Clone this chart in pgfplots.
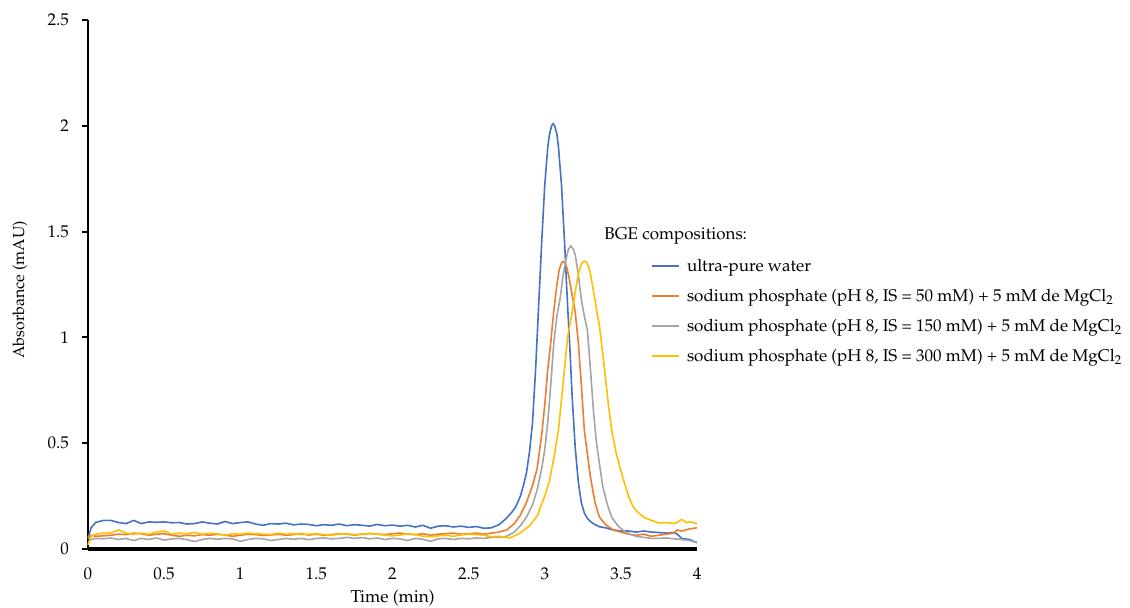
\documentclass[border=0pt]{standalone}
\usepackage[T1]{fontenc}
\usepackage{mathpazo}
\usepackage{pgfplots}
\pgfplotsset{compat=1.18}
\definecolor{cBlue}{HTML}{4472C4}
\definecolor{cOrange}{HTML}{ED7D31}
\definecolor{cGray}{HTML}{A5A5A5}
\definecolor{cYellow}{HTML}{FFC000}
\newcommand{\fs}{\fontsize{8.5}{10}\selectfont}
\begin{document}
\begin{tikzpicture}
\useasboundingbox (-44pt,-29.5pt) rectangle (521pt,274.5pt);
\begin{axis}[
  scale only axis, width=304.5pt, height=264.5pt,
  xmin=0, xmax=4, ymin=0, ymax=2.5,
  axis lines=left, axis line style={-},
  x axis line style={line width=1.8pt},
  y axis line style={line width=1.2pt},
  xtick={0,0.5,...,4}, ytick={0,0.5,...,2.5},
  xtick style={draw=none},
  ytick style={line width=1pt, black},
  tick align=outside, major tick length=3pt,
  tick label style={font=\fs},
  xticklabel style={yshift=-3pt},
  yticklabel style={xshift=-3pt},
  every axis x label/.style={at={(rel axis cs:0.5,0)}, yshift=-24.5pt, anchor=center, font=\fontsize{8.6}{10}\selectfont},
  every axis y label/.style={at={(rel axis cs:0,0.49)}, xshift=-34pt, rotate=90, anchor=center, font=\fontsize{8}{9}\selectfont},
  xlabel={Time (min)}, ylabel={Absorbance (mAU)},
  clip=false,
  legend style={at={(axis cs:3.698,1.398)}, anchor=north west, draw=none, fill=none,
    font=\fs, inner sep=0pt, row sep=2.5pt,
    cells={inner sep=0pt, text height=7pt, text depth=3pt},
    /tikz/every odd column/.append style={column sep=1.5pt}},
  legend cell align=left,
  legend image code/.code={\draw[mark repeat=2,mark phase=2,#1] plot coordinates {(0pt,0pt) (13.5pt,0pt)};},
]
\addplot[cBlue, line width=0.8pt] coordinates {
(0,0.05)(0.02,0.10)(0.05,0.125)(0.1,0.135)(0.15,0.135)(0.2,0.125)(0.25,0.12)(0.3,0.135)(0.35,0.12)(0.4,0.128)(0.45,0.126)(0.5,0.128)(0.55,0.124)(0.6,0.125)(0.65,0.118)(0.7,0.12)(0.75,0.128)(0.8,0.122)(0.85,0.118)(0.9,0.13)(0.95,0.12)(1.0,0.125)(1.05,0.128)(1.1,0.118)(1.15,0.112)(1.2,0.12)(1.25,0.118)(1.3,0.122)(1.35,0.114)(1.4,0.118)(1.45,0.116)(1.5,0.11)(1.55,0.115)(1.6,0.112)(1.65,0.118)(1.7,0.11)(1.75,0.115)(1.8,0.112)(1.85,0.108)(1.9,0.116)(1.95,0.11)(2.0,0.113)(2.05,0.108)(2.1,0.112)(2.15,0.104)(2.2,0.112)(2.25,0.098)(2.3,0.108)(2.35,0.11)(2.4,0.104)(2.45,0.108)(2.5,0.102)(2.55,0.106)(2.6,0.098)(2.65,0.1)(2.7,0.115)(2.74,0.14)(2.78,0.17)(2.81,0.2)(2.84,0.25)(2.86,0.3)(2.88,0.36)(2.90,0.46)(2.92,0.6)(2.94,0.85)(2.96,1.15)(2.98,1.45)(3.00,1.72)(3.02,1.9)(3.03,1.955)(3.045,2.0)(3.055,2.01)(3.065,2.0)(3.08,1.96)(3.09,1.9)(3.11,1.72)(3.13,1.45)(3.15,1.15)(3.165,0.95)(3.18,0.72)(3.20,0.48)(3.22,0.32)(3.24,0.22)(3.26,0.17)(3.28,0.145)(3.30,0.13)(3.33,0.115)(3.36,0.105)(3.40,0.1)(3.45,0.09)(3.5,0.085)(3.55,0.085)(3.6,0.08)(3.65,0.085)(3.7,0.08)(3.75,0.078)(3.8,0.075)(3.85,0.078)(3.87,0.07)(3.9,0.05)(3.95,0.045)(4.0,0.03)
};
\addlegendentry{ultra-pure water}
\addplot[cOrange, line width=0.8pt] coordinates {
(0,0.05)(0.02,0.065)(0.05,0.06)(0.1,0.062)(0.15,0.065)(0.2,0.07)(0.25,0.068)(0.3,0.075)(0.35,0.072)(0.4,0.065)(0.45,0.07)(0.5,0.072)(0.55,0.065)(0.6,0.06)(0.65,0.065)(0.7,0.062)(0.75,0.068)(0.8,0.065)(0.85,0.07)(0.9,0.066)(0.95,0.06)(1.0,0.065)(1.05,0.07)(1.1,0.068)(1.15,0.064)(1.2,0.066)(1.25,0.07)(1.3,0.065)(1.35,0.068)(1.4,0.072)(1.45,0.066)(1.5,0.07)(1.55,0.065)(1.6,0.068)(1.65,0.072)(1.7,0.07)(1.75,0.066)(1.8,0.07)(1.85,0.074)(1.9,0.07)(1.95,0.068)(2.0,0.072)(2.05,0.075)(2.1,0.07)(2.15,0.068)(2.2,0.072)(2.25,0.065)(2.3,0.07)(2.35,0.072)(2.4,0.075)(2.45,0.07)(2.5,0.072)(2.55,0.075)(2.6,0.07)(2.65,0.075)(2.7,0.08)(2.75,0.09)(2.80,0.12)(2.84,0.16)(2.88,0.22)(2.92,0.3)(2.95,0.38)(2.98,0.54)(3.00,0.68)(3.02,0.85)(3.04,0.98)(3.06,1.13)(3.08,1.25)(3.095,1.32)(3.11,1.352)(3.12,1.358)(3.13,1.352)(3.145,1.33)(3.16,1.28)(3.18,1.2)(3.20,1.12)(3.22,0.98)(3.24,0.78)(3.26,0.56)(3.28,0.45)(3.30,0.34)(3.33,0.22)(3.36,0.15)(3.40,0.115)(3.45,0.09)(3.5,0.08)(3.55,0.07)(3.6,0.065)(3.65,0.07)(3.7,0.06)(3.75,0.065)(3.8,0.07)(3.85,0.075)(3.87,0.09)(3.9,0.085)(3.95,0.095)(4.0,0.1)
};
\addlegendentry{sodium phosphate (pH 8, IS = 50 mM) + 5 mM de MgCl$_2$}
\addplot[cGray, line width=0.8pt] coordinates {
(0,0.03)(0.02,0.045)(0.05,0.05)(0.1,0.048)(0.15,0.052)(0.2,0.045)(0.25,0.05)(0.3,0.04)(0.35,0.05)(0.4,0.045)(0.45,0.052)(0.5,0.042)(0.55,0.048)(0.6,0.05)(0.65,0.044)(0.7,0.035)(0.75,0.045)(0.8,0.05)(0.85,0.046)(0.9,0.05)(0.95,0.048)(1.0,0.036)(1.05,0.045)(1.1,0.05)(1.15,0.048)(1.2,0.04)(1.25,0.045)(1.3,0.05)(1.35,0.046)(1.4,0.05)(1.45,0.044)(1.5,0.05)(1.55,0.052)(1.6,0.048)(1.65,0.05)(1.7,0.055)(1.75,0.05)(1.8,0.054)(1.85,0.048)(1.9,0.052)(1.95,0.045)(2.0,0.05)(2.05,0.048)(2.1,0.04)(2.15,0.05)(2.2,0.046)(2.25,0.036)(2.3,0.048)(2.35,0.05)(2.4,0.045)(2.45,0.05)(2.5,0.048)(2.55,0.052)(2.6,0.05)(2.65,0.055)(2.70,0.055)(2.75,0.06)(2.80,0.08)(2.84,0.11)(2.88,0.15)(2.92,0.21)(2.95,0.28)(2.98,0.38)(3.00,0.47)(3.02,0.6)(3.04,0.78)(3.06,0.98)(3.08,1.1)(3.10,1.18)(3.12,1.29)(3.14,1.37)(3.155,1.415)(3.17,1.432)(3.185,1.42)(3.20,1.39)(3.22,1.3)(3.24,1.18)(3.26,1.1)(3.28,1.035)(3.30,0.85)(3.32,0.65)(3.34,0.5)(3.36,0.4)(3.38,0.3)(3.40,0.24)(3.42,0.19)(3.44,0.15)(3.48,0.11)(3.52,0.085)(3.56,0.07)(3.6,0.06)(3.65,0.055)(3.7,0.05)(3.75,0.05)(3.8,0.052)(3.85,0.048)(3.9,0.045)(3.95,0.04)(4.0,0.03)
};
\addlegendentry{sodium phosphate (pH 8, IS = 150 mM) + 5 mM de MgCl$_2$}
\addplot[cYellow, line width=0.8pt] coordinates {
(0,0.02)(0.02,0.06)(0.05,0.07)(0.1,0.075)(0.15,0.075)(0.2,0.09)(0.25,0.075)(0.3,0.07)(0.35,0.075)(0.4,0.07)(0.45,0.08)(0.5,0.085)(0.55,0.07)(0.6,0.075)(0.65,0.072)(0.7,0.078)(0.75,0.07)(0.8,0.074)(0.85,0.072)(0.9,0.065)(0.95,0.072)(1.0,0.07)(1.05,0.075)(1.1,0.072)(1.15,0.07)(1.2,0.068)(1.25,0.075)(1.3,0.07)(1.35,0.072)(1.4,0.068)(1.45,0.07)(1.5,0.072)(1.55,0.068)(1.6,0.065)(1.65,0.07)(1.7,0.072)(1.75,0.068)(1.8,0.07)(1.85,0.072)(1.9,0.07)(1.95,0.065)(2.0,0.062)(2.05,0.066)(2.1,0.072)(2.15,0.068)(2.2,0.06)(2.25,0.058)(2.3,0.062)(2.35,0.065)(2.4,0.06)(2.45,0.066)(2.5,0.07)(2.55,0.068)(2.6,0.065)(2.65,0.058)(2.70,0.06)(2.77,0.052)(2.84,0.076)(2.90,0.11)(2.95,0.155)(3.00,0.25)(3.03,0.32)(3.06,0.43)(3.09,0.562)(3.12,0.78)(3.15,1.0)(3.18,1.12)(3.21,1.26)(3.23,1.325)(3.245,1.352)(3.26,1.361)(3.275,1.355)(3.29,1.33)(3.30,1.30)(3.32,1.22)(3.34,1.13)(3.36,1.05)(3.38,0.93)(3.40,0.8)(3.42,0.67)(3.44,0.56)(3.47,0.45)(3.50,0.37)(3.52,0.32)(3.55,0.25)(3.58,0.2)(3.61,0.175)(3.65,0.15)(3.70,0.135)(3.75,0.123)(3.8,0.125)(3.85,0.12)(3.88,0.13)(3.9,0.14)(3.93,0.125)(3.96,0.128)(4.0,0.12)
};
\addlegendentry{sodium phosphate (pH 8, IS = 300 mM) + 5 mM de MgCl$_2$}
\node[anchor=west, font=\fs, inner sep=0pt] at (axis cs:3.389,1.479) {BGE compositions:};
\end{axis}
\end{tikzpicture}
\end{document}
